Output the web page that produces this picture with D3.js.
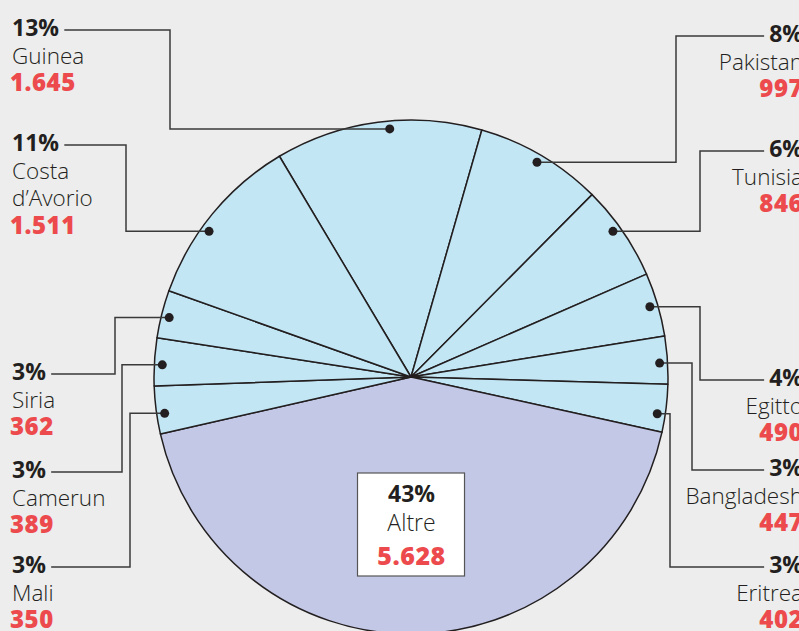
<!DOCTYPE html>
<html>
<head>
<meta charset="utf-8">
<script src="https://cdn.jsdelivr.net/npm/d3@7"></script>
<style>
  body { margin: 0; background: #ededed; }
  svg { display: block; }
</style>
</head>
<body>
<div id="chart"></div>
<script>
// data
const countries = ["Guinea", "Pakistan", "Tunisia", "Egitto", "Bangladesh", "Eritrea", "Altre", "Mali", "Camerun", "Siria", "Costa\nd’Avorio"];
const shares = [13, 8, 6, 4, 3, 3, 43, 3, 3, 3, 11];
const arrivals = [1645, 997, 846, 490, 447, 402, 5628, 350, 389, 362, 1511];

// label layout: side, baseline of the percent line, x of the leader elbow,
// nudge of the dot along the rim (degrees)
const labelLayout = [
  { side: "left", y: 36, elbow: 170, nudge: 2.5 },
  { side: "right", y: 42, elbow: 676, nudge: 0 },
  { side: "right", y: 157, elbow: 700, nudge: -1.4 },
  { side: "right", y: 386, elbow: 700, nudge: 0 },
  { side: "right", y: 476, elbow: 692, nudge: 0.6 },
  { side: "right", y: 573, elbow: 670, nudge: 1.5 },
  { side: "box" },
  { side: "left", y: 573, elbow: 130, nudge: -1 },
  { side: "left", y: 478, elbow: 122, nudge: -0.6 },
  { side: "left", y: 380, elbow: 115, nudge: -0.4 },
  { side: "left", y: 151, elbow: 126, nudge: -3.6 }
];

const width = 799, height = 631;
const cx = 411, cy = 377, radius = 257;
const ink = "#231f20", red = "#ec4a4c";
const font = "'Open Sans', sans-serif";

const it = d3.formatLocale({ decimal: ",", thousands: ".", grouping: [3], currency: ["", "€"] });
const fmt = it.format(",d");

const data = countries.map((c, i) => ({ name: c, share: shares[i], n: arrivals[i], lay: labelLayout[i] }));

const pie = d3.pie()
  .value(d => d.share)
  .sort(null)
  .startAngle(-30.8 * Math.PI / 180)
  .endAngle((360 - 30.8) * Math.PI / 180);
const arcs = pie(data);

const arc = d3.arc().innerRadius(0).outerRadius(radius);
const boxArc = d3.arc().innerRadius(147).outerRadius(147);
const dotR = 249;

const svg = d3.select("#chart").append("svg")
  .attr("width", width)
  .attr("height", height)
  .attr("viewBox", `0 0 ${width} ${height}`)
  .style("font-family", font);

svg.append("rect").attr("width", width).attr("height", height).attr("fill", "#ededed");

const g = svg.append("g").attr("transform", `translate(${cx},${cy})`);

g.selectAll("path.slice")
  .data(arcs)
  .join("path")
  .attr("class", "slice")
  .attr("d", arc)
  .attr("fill", d => d.data.name === "Altre" ? "#c3c8e6" : "#c2e6f4")
  .attr("stroke", ink)
  .attr("stroke-width", 1.5)
  .attr("stroke-linejoin", "round");

// labels outside
const outer = arcs.filter(d => d.data.lay.side !== "box");
const lineH = 27.5;

outer.forEach(d => {
  const lay = d.data.lay;
  const left = lay.side === "left";
  const tx = left ? 12 : 803;
  const anchor = left ? "start" : "end";
  const lab = svg.append("g");

  const pct = lab.append("text")
    .attr("x", tx).attr("y", lay.y)
    .attr("text-anchor", anchor)
    .attr("font-size", 23).attr("font-weight", 700)
    .attr("fill", ink)
    .text(d.data.share + "%");

  const lines = d.data.name.split("\n");
  lines.forEach((l, k) => {
    lab.append("text")
      .attr("x", tx).attr("y", lay.y + lineH * (k + 1))
      .attr("text-anchor", anchor)
      .attr("font-size", 22.5).attr("font-weight", 300)
      .attr("fill", ink)
      .text(l);
  });
  lab.append("text")
    .attr("x", left ? tx - 2 : tx).attr("y", lay.y + lineH * (lines.length + 1))
    .attr("text-anchor", anchor)
    .attr("font-size", 24).attr("font-weight", 800)
    .attr("letter-spacing", 0.5)
    .attr("fill", red)
    .text(fmt(d.data.n));

  const bb = pct.node().getBBox();
  const a = (d.startAngle + d.endAngle) / 2 + lay.nudge * Math.PI / 180;
  const dotX = cx + dotR * Math.sin(a), dotY = cy - dotR * Math.cos(a);
  const lineY = lay.y - 6;
  const endX = left ? bb.x + bb.width + 5 : bb.x - 5;

  svg.append("path")
    .attr("d", `M${dotX},${dotY}H${lay.elbow}V${lineY}H${endX}`)
    .attr("fill", "none")
    .attr("stroke", "#3a3a3a")
    .attr("stroke-width", 1.5);

  svg.append("circle")
    .attr("cx", dotX).attr("cy", dotY).attr("r", 4.5)
    .attr("fill", ink);
});

// box label for the big slice
const big = arcs.find(d => d.data.lay.side === "box");
const [bx, by] = boxArc.centroid(big);
const box = svg.append("g").attr("transform", `translate(${cx + bx},${cy + by})`);
box.append("rect")
  .attr("x", -54).attr("y", -51)
  .attr("width", 107).attr("height", 103)
  .attr("fill", "#fff")
  .attr("stroke", "#555")
  .attr("stroke-width", 1.2);
box.append("text")
  .attr("y", -22).attr("text-anchor", "middle")
  .attr("font-size", 23).attr("font-weight", 700).attr("fill", ink)
  .text(big.data.share + "%");
box.append("text")
  .attr("y", 7).attr("text-anchor", "middle")
  .attr("font-size", 23).attr("font-weight", 300).attr("fill", ink)
  .text(big.data.name);
box.append("text")
  .attr("y", 41).attr("text-anchor", "middle")
  .attr("font-size", 25).attr("font-weight", 800)
  .attr("letter-spacing", 0.5).attr("fill", red)
  .text(fmt(big.data.n));
</script>
</body>
</html>
